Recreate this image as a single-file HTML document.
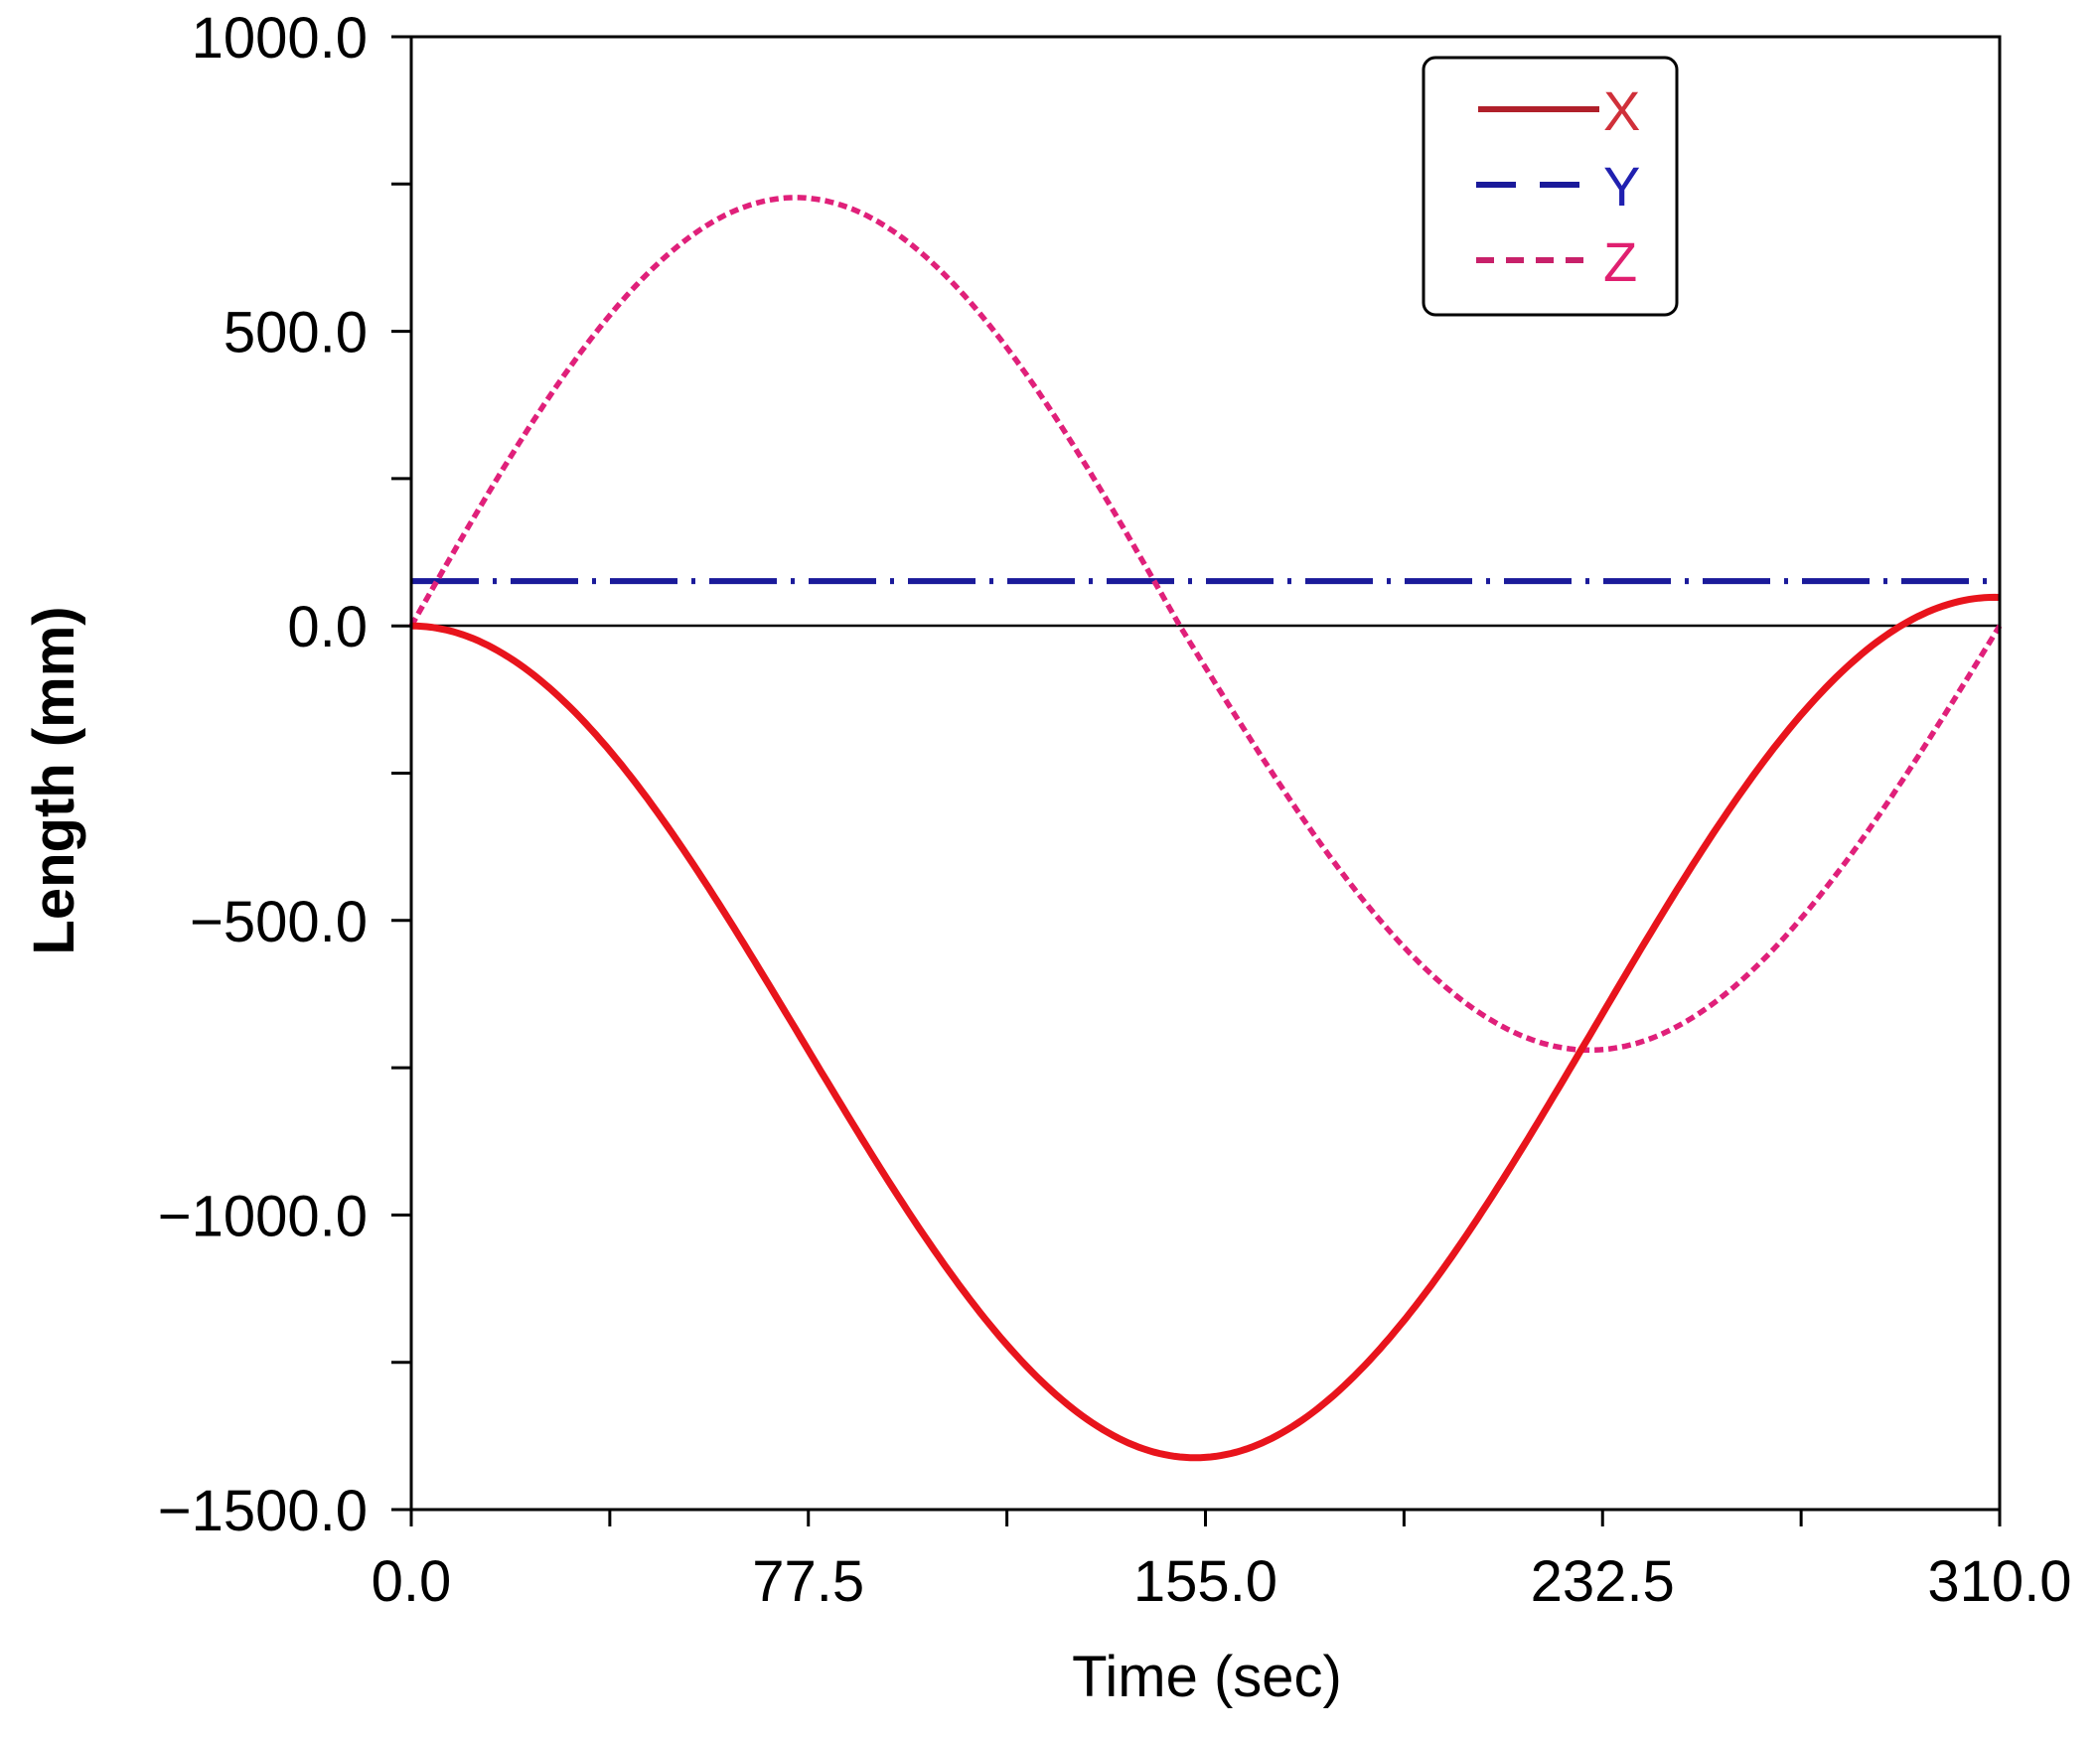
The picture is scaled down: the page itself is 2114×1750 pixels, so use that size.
<!DOCTYPE html>
<html><head><meta charset="utf-8"><style>
html,body{margin:0;padding:0;background:#fff;}
svg{display:block;}
text{font-family:"Liberation Sans",Arial,sans-serif;}
</style></head><body>
<svg id="s" width="2114" height="1750" viewBox="0 0 2114 1750" xmlns="http://www.w3.org/2000/svg">
<rect width="2114" height="1750" fill="#fff"/>
<g id="ticks" stroke="#000" stroke-width="3"></g>
<line x1="414" y1="630" x2="2013" y2="630" stroke="#000" stroke-width="2.5"/>
<path id="py" fill="none" stroke="#1a1a9a" stroke-width="6" stroke-dasharray="68 14 4 14"/>
<path id="pz" fill="none" stroke="#e0207a" stroke-width="5.5" stroke-dasharray="9 5"/>
<path id="px" fill="none" stroke="#e8141c" stroke-width="7"/>
<rect x="414" y="37" width="1599" height="1483" fill="none" stroke="#000" stroke-width="3"/>
<g font-size="58" fill="#000" text-anchor="end" id="ylab"></g>
<g font-size="58" fill="#000" text-anchor="middle" id="xlab"></g>
<text x="1215" y="1708" font-size="58" text-anchor="middle">Time (sec)</text>
<text transform="translate(74,786) rotate(-90)" font-size="58" font-weight="bold" text-anchor="middle">Length (mm)</text>
<rect x="1433" y="58" width="255" height="259" rx="12" fill="#fff" stroke="#000" stroke-width="3"/>
<line x1="1488" y1="110" x2="1610" y2="110" stroke="#b0202a" stroke-width="6"/>
<line x1="1486" y1="186" x2="1608" y2="186" stroke="#1a1a9a" stroke-width="6" stroke-dasharray="40 24"/>
<line x1="1486" y1="262" x2="1606" y2="262" stroke="#c8206a" stroke-width="6" stroke-dasharray="18 12"/>
<text x="1614" y="131" font-size="56" fill="#d0303a">X</text>
<text x="1614" y="207" font-size="56" fill="#2020b0">Y</text>
<text x="1614" y="283" font-size="56" fill="#e02070">Z</text>
</svg>
<script>
var L=414,R=2013,T=37,B=1520;
function X(t){return L+(R-L)*t/310;}
function Y(v){return T+(B-T)*(1000-v)/2500;}
var w=2*Math.PI/306;
function fx(t){var r=t>200?0.0042*(t-200)*(t-200):0;return -706*(1-Math.cos(w*t))+r;}
function fz(t){return t<150?727*Math.sin(Math.PI*t/150):-720*Math.sin(Math.PI*(t-150)/160);}
function path(f){var d="";for(var t=0;t<=310;t+=1){d+=(t?"L":"M")+X(t).toFixed(1)+","+Y(f(t)).toFixed(1);}return d;}
document.getElementById("px").setAttribute("d",path(fx));
document.getElementById("pz").setAttribute("d",path(fz));
document.getElementById("py").setAttribute("d","M"+L+","+Y(76)+"L"+R+","+Y(76));
var g=document.getElementById("ticks"),s="";
for(var v=-1500;v<=1000;v+=250){var y=Y(v);s+='<line x1="'+(L-20)+'" y1="'+y+'" x2="'+L+'" y2="'+y+'"/>';}
for(var i=0;i<=8;i++){var x=L+(R-L)*i/8;s+='<line x1="'+x+'" y1="'+B+'" x2="'+x+'" y2="'+(B+17)+'"/>';}
g.innerHTML=s;
var yl=document.getElementById("ylab"),h="";
[1000,500,0,-500,-1000,-1500].forEach(function(v){var t=v<0?"\u2212"+(-v).toFixed(1):v.toFixed(1);h+='<text x="370" y="'+(Y(v)+21)+'">'+t+'</text>';});
yl.innerHTML=h;
var xl=document.getElementById("xlab");h="";
["0.0","77.5","155.0","232.5","310.0"].forEach(function(t,i){h+='<text x="'+(L+(R-L)*i/4)+'" y="1612">'+t+'</text>';});
xl.innerHTML=h;
</script>
</body></html>
